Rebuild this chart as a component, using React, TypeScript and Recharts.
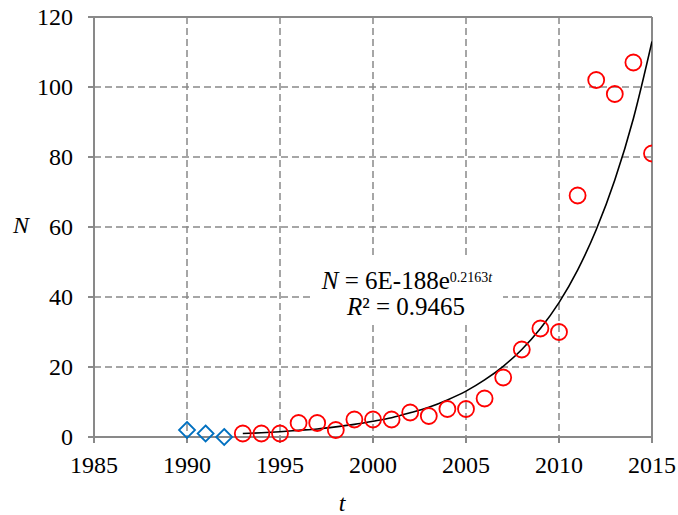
import React from "react";
import {
  ComposedChart,
  Scatter,
  Line,
  XAxis,
  YAxis,
  CartesianGrid,
  ReferenceLine,
  Customized,
} from "recharts";

// observed counts per year
const years = [1993, 1994, 1995, 1996, 1997, 1998, 1999, 2000, 2001, 2002, 2003, 2004, 2005, 2006, 2007, 2008, 2009, 2010, 2011, 2012, 2013, 2014, 2015];
const counts = [1, 1, 1, 4, 4, 2, 5, 5, 5, 7, 6, 8, 8, 11, 17, 25, 31, 30, 69, 102, 98, 107, 81];

// early points (blue diamonds)
const earlyYears = [1990, 1991, 1992];
const earlyCounts = [2, 1, 0];

// exponential trendline at each year
const trendValues = [1.0, 1.2, 1.5, 1.9, 2.3, 2.9, 3.6, 4.5, 5.5, 6.9, 8.5, 10.6, 13.1, 16.3, 20.2, 25.0, 31.0, 38.4, 47.7, 59.2, 73.4, 91.0, 113.0];

const xTicks = [1985, 1990, 1995, 2000, 2005, 2010, 2015];
const yTicks = [0, 20, 40, 60, 80, 100, 120];

const mainData = years.map((t, i) => ({ t, n: counts[i] }));
const earlyData = earlyYears.map((t, i) => ({ t, n: earlyCounts[i] }));
const trendData = years.map((t, i) => ({ t, n: trendValues[i] }));

const FONT = "Liberation Serif";
const AXIS = "#898989";
const txt = { fontFamily: FONT };

const Circle = (props: any) => {
  const { cx, cy } = props;
  return <circle cx={cx} cy={cy} r={8} fill="none" stroke="#ff0000" strokeWidth={1.8} />;
};

const Diamond = (props: any) => {
  const { cx, cy } = props;
  const s = 8;
  return (
    <path
      d={`M${cx},${cy - s} L${cx + s},${cy} L${cx},${cy + s} L${cx - s},${cy} Z`}
      fill="none"
      stroke="#0070c0"
      strokeWidth={1.8}
    />
  );
};

const XTick = (props: any) => {
  const { x, y, payload } = props;
  return (
    <text x={x} y={y + 17} textAnchor="middle" fontSize={24} fill="#000" style={txt}>
      {payload.value}
    </text>
  );
};

const YTick = (props: any) => {
  const { x, y, payload } = props;
  return (
    <text x={x} y={y + 8} textAnchor="end" fontSize={24} fill="#000" style={txt}>
      {payload.value}
    </text>
  );
};

const Equation = () => (
  <g fill="#000" style={txt}>
    <rect x={314} y={259} width={189} height={66} fill="#fff" />
    <text x={407} y={289} fontSize={25} textAnchor="middle" style={txt}>
      <tspan fontStyle="italic">N</tspan>
      <tspan> = 6E-188e</tspan>
      <tspan dy={-7} fontSize={14}>0.2163</tspan>
      <tspan fontSize={14} fontStyle="italic">t</tspan>
    </text>
    <text x={406} y={315} fontSize={25} textAnchor="middle" style={txt}>
      <tspan fontStyle="italic">R</tspan>
      <tspan>² = 0.9465</tspan>
    </text>
    <text x={13} y={233} fontSize={24} fontStyle="italic" style={txt}>N</text>
    <text x={342} y={511} fontSize={24} fontStyle="italic" textAnchor="middle" style={txt}>t</text>
  </g>
);

export default function App() {
  return (
    <div style={{ position: "absolute", left: 0, top: 0, background: "#fff", fontFamily: FONT }}>
      <ComposedChart width={678} height={515} margin={{ top: 17, right: 26, bottom: 0, left: 0 }}>
        <CartesianGrid stroke={AXIS} strokeWidth={1.5} strokeDasharray="7 4" />
        <XAxis
          type="number"
          dataKey="t"
          domain={[1985, 2015]}
          ticks={xTicks}
          allowDataOverflow
          height={78}
          stroke={AXIS}
          strokeWidth={2}
          tickSize={6}
          tickMargin={13}
          tick={<XTick />}
        />
        <YAxis
          type="number"
          domain={[0, 120]}
          ticks={yTicks}
          width={94}
          stroke={AXIS}
          strokeWidth={2}
          tickSize={6}
          tickMargin={15}
          tick={<YTick />}
        />
        <ReferenceLine y={120} stroke={AXIS} strokeWidth={2} />
        <ReferenceLine x={2015} stroke={AXIS} strokeWidth={2} />
        <Customized component={Equation} />
        <Line
          data={trendData}
          dataKey="n"
          type="monotone"
          dot={false}
          stroke="#000"
          strokeWidth={1.6}
          isAnimationActive={false}
        />
        <Scatter data={earlyData} dataKey="n" shape={<Diamond />} isAnimationActive={false} />
        <Scatter data={mainData} dataKey="n" shape={<Circle />} isAnimationActive={false} />
      </ComposedChart>
    </div>
  );
}
